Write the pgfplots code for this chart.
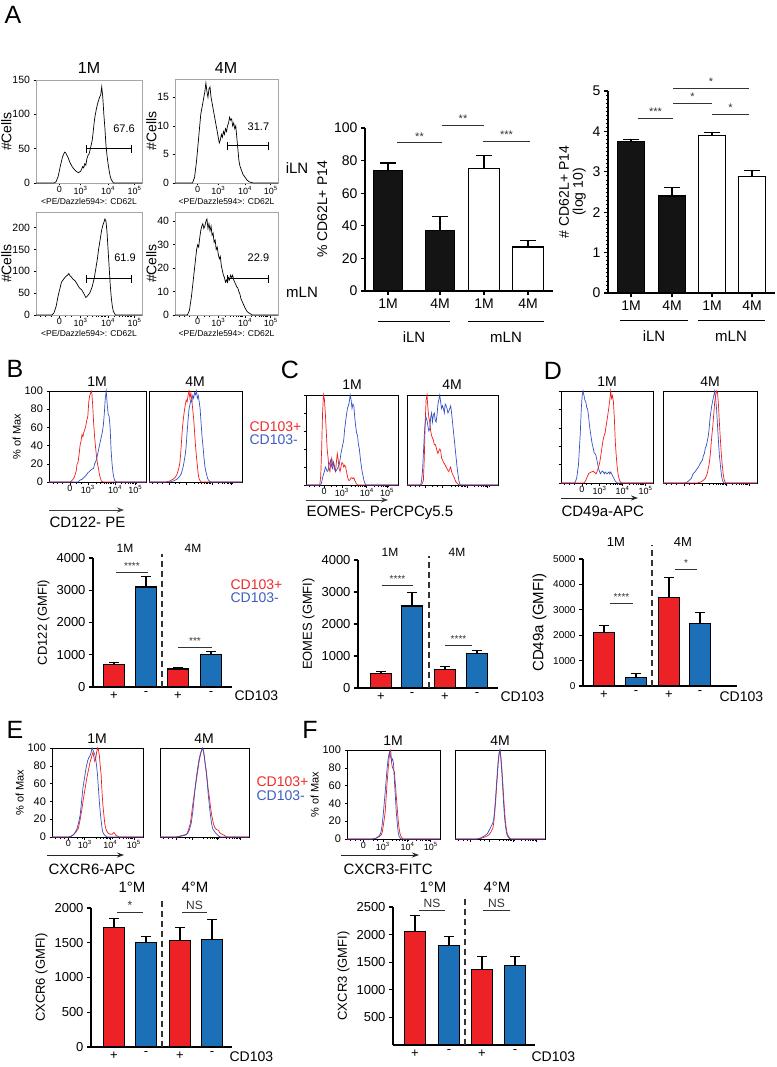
\documentclass[border=0pt]{standalone}
\usepackage{pgfplots}
\pgfplotsset{compat=1.18}
\usepackage{fontspec}
\setmainfont{Liberation Sans}
\usetikzlibrary{arrows.meta}
\definecolor{hred}{HTML}{F21B1B}
\definecolor{hblue}{HTML}{3551C4}
\definecolor{bred}{HTML}{EC2227}
\definecolor{bblue}{HTML}{1B70B8}
\definecolor{tred}{HTML}{EE2B2B}
\definecolor{tblue}{HTML}{3F5DBF}
\newcommand{\fs}[1]{\fontsize{#1}{#1}\selectfont}
\newcommand{\tsup}[1]{10\textsuperscript{#1}}
\newcommand{\gate}[3]{%
  \draw[line width=0.9pt] (axis cs:#1,#3) -- (axis cs:#2,#3);
  \draw[line width=0.9pt] (axis cs:#1,#3) ++(0pt,-4pt) -- ++(0pt,8pt);
  \draw[line width=0.9pt] (axis cs:#2,#3) ++(0pt,-4pt) -- ++(0pt,8pt);}
\newcommand{\sig}[5][10]{\draw[line width=1pt,black!80] (axis cs:#2,#4) -- (axis cs:#3,#4) node[midway,above=-1pt,font=\fs{#1},black!80] {#5};}
\newcommand{\pmlabs}[4]{%
  \node[font=\fs{13},below=1pt] at (axis cs:#1,0) {+};
  \node[font=\fs{13},below=1pt] at (axis cs:#2,0) {-};
  \node[font=\fs{13},below=1pt] at (axis cs:#3,0) {+};
  \node[font=\fs{13},below=1pt] at (axis cs:#4,0) {-};}
\newcommand{\sepline}[2]{\draw[line width=1.2pt,black!80,dash pattern=on 6pt off 4pt] (axis cs:#1,0) -- (axis cs:#1,#2);}
\pgfplotsset{
  every axis/.append style={/pgf/number format/assume math mode=true,/pgf/number format/1000 sep={},scaled y ticks=false},
  hist/.style={scale only axis,anchor=south west,xmin=0,xmax=100,ymin=0,ymax=100,
    axis line style={line width=0.7pt},tick align=outside,xtick pos=bottom,ytick pos=left,
    major tick length=2.5pt,minor tick length=1.5pt,tick style={line width=0.6pt,black},
    yticklabel style={font=\fs{11}},xticklabel style={font=\fs{9},inner sep=1pt},
    minor xtick={4,9,14,28,33,48.8,53.4,56.7,59.2,61.2,63,64.5,65.8,74.2,78.4,81.4,83.8,85.7,87.3,88.7,89.9},
    clip=false,ylabel style={font=\fs{11}},ytick=\empty},
  hx/.style n args={4}{xtick={#1,#2,#3,#4},xticklabels={0,\tsup{3},\tsup{4},\tsup{5}}},
  hxn/.style n args={4}{xtick={#1,#2,#3,#4},xticklabels={}},
  yt/.style={ytick={0,20,40,60,80,100}},
  histA/.style={axis line style={gray!70},ylabel={\#Cells},ylabel style={font=\fs{14}},ylabel shift=-6pt,
    yticklabel style={font=\fs{10.5}},
    xlabel={<PE/Dazzle594>: CD62L},xlabel style={font=\fs{8.5},yshift=1pt}},
  barax/.style={scale only axis,anchor=south west,axis lines=left,axis line style={-,line width=1.4pt},
    tick align=outside,major tick length=4pt,tick style={line width=1.2pt,black},
    ymin=0,clip=false,yticklabel style={font=\fs{13}},xticklabel style={font=\fs{14}},
    ylabel style={font=\fs{13}},xtick=\empty},
  barp/.style={ybar,bar shift=0pt,draw=black,line width=1.2pt,
    error bars/y dir=plus,error bars/y explicit,
    error bars/error bar style={line width=1.2pt,black},
    error bars/error mark options={rotate=90,line width=1.2pt,black,mark size=5pt}},
  capA/.style={error bars/error mark options={rotate=90,line width=1.2pt,black,mark size=8pt}},
  hl/.style={line width=0.7pt},
}
\begin{document}
\begin{tikzpicture}
\path[use as bounding box] (0pt,0pt) rectangle (776pt,-1067pt);

% ================= Panel A =================
\node[font=\fs{25}] at (13pt,-15pt) {A};
\node[font=\fs{16}] at (89pt,-68pt) {1M};
\node[font=\fs{16}] at (226pt,-68pt) {4M};
\node[font=\fs{15}] at (297pt,-168pt) {iLN};
\node[font=\fs{15}] at (302pt,-292pt) {mLN};

\begin{axis}[hist,at={(36pt,-183pt)},width=106pt,height=103pt,ymax=150,ytick={0,50,100,150},
  hx={22}{42}{68}{93},histA]
\addplot[black,hl] coordinates {(0,0) (17,0) (19,2) (21,10) (23,25) (25,38) (27,45) (28,44) (30,38) (32,30) (34,24) (36,20) (38,17) (40,15) (42,17) (43,20) (44,24) (45,22) (46,28) (47,26) (48,35) (49,40) (50,42) (51,48) (52,55) (53,62) (54,75) (55,90) (56,100) (57,108) (58,115) (59,120) (60,125) (61,128) (62,140) (63,125) (64,100) (65,80) (66,55) (67,40) (68,28) (69,18) (70,10) (71,5) (73,0) (100,0)};
\gate{48}{89.6}{50}
\node[font=\fs{11}] at (axis cs:83,79) {67.6};
\end{axis}

\begin{axis}[hist,at={(175pt,-183pt)},width=103pt,height=104pt,ymax=18.2,ytick={0,5,10,15},
  hx={22}{42}{68}{93},histA]
\addplot[black,hl] coordinates {(0,0) (17,0) (19,1) (21,4) (23,8) (25,12) (27,14) (29,16) (30,17.5) (31,16) (32,15) (33,16.5) (34,16.8) (35,15) (36,14) (37,13) (38,12) (39,11) (40,10) (41,9) (42,8) (43,7) (44,7.5) (45,8.5) (46,8) (47,9) (48,8.5) (49,9.5) (50,9) (51,10) (52,10.5) (53,11.5) (54,11) (55,11.2) (56,10) (57,10.5) (58,9.5) (59,10) (60,8) (61,6) (62,4) (63,3) (64,2.5) (65,2) (66,1.5) (68,1) (70,0.5) (72,0.2) (76,0) (100,0)};
\gate{50.5}{91}{6.5}
\node[font=\fs{11}] at (axis cs:81,9.8) {31.7};
\end{axis}

\begin{axis}[hist,at={(36pt,-315pt)},width=106pt,height=103pt,ymax=236,ytick={0,50,100,150,200},
  hx={22}{42}{68}{93},histA]
\addplot[black,hl] coordinates {(0,0) (15,0) (17,5) (19,20) (21,45) (23,65) (24,75) (26,82) (28,88) (30,92) (31,95) (32,90) (33,88) (35,82) (37,78) (39,70) (41,62) (43,58) (45,50) (46,45) (47,40) (48,42) (49,45) (50,48) (51,52) (52,58) (53,65) (54,75) (55,85) (56,100) (57,115) (58,130) (59,150) (60,165) (61,180) (62,195) (63,205) (64,212) (65,220) (66,215) (67,190) (68,150) (69,110) (70,70) (71,40) (72,20) (73,8) (75,0) (100,0)};
\gate{48}{90}{83}
\node[font=\fs{11}] at (axis cs:84,131) {61.9};
\end{axis}

\begin{axis}[hist,at={(175pt,-315pt)},width=103pt,height=103pt,ymax=44,ytick={0,10,20,30,40},
  hx={22}{42}{68}{93},histA]
\addplot[black,hl] coordinates {(0,0) (12,0) (14,2) (16,8) (18,16) (20,24) (21,28) (22,30) (23,29) (24,33) (25,36) (26,38) (27,39) (28,37) (29,38) (30,40) (31,41) (32,37) (33,39) (34,36) (35,38) (36,34) (37,35) (38,31) (39,32) (40,28) (41,29) (42,26) (43,24) (44,25) (45,21) (46,19) (47,17) (48,16) (49,14) (50,15) (51,14) (52,16) (53,15) (54,17) (55,16) (56,17) (57,15) (58,14) (59,13) (60,12) (61,11.5) (62,10) (63,9) (64,7) (65,6) (66,5) (67,4) (68,3) (70,1.5) (72,0.8) (75,0) (100,0)};
\gate{50.5}{91}{15.5}
\node[font=\fs{11}] at (axis cs:81,24.5) {22.9};
\end{axis}

% A middle bar chart
\begin{axis}[barax,at={(365pt,-291pt)},width=188pt,height=163pt,xmin=0,xmax=188,ymax=100,
  ytick={0,20,40,60,80,100},xtick={23,75,119,163},xticklabels={1M,4M,1M,4M},
  yticklabel style={font=\fs{14}},ylabel={\% CD62L+ P14},ylabel style={font=\fs{14}}]
\addplot[barp,capA,bar width=29pt,fill=black!92] coordinates {(23,74) +- (0,4.5) (75,37) +- (0,8.5)};
\addplot[barp,capA,bar width=31pt,fill=white] coordinates {(119,75) +- (0,8) (163,27) +- (0,4)};
\sig[11]{32}{77}{90.8}{**}
\sig[11]{77}{119}{101.8}{**}
\sig[11]{118}{165}{92}{***}
\end{axis}
\draw[line width=1pt] (378pt,-321pt) -- (450pt,-321pt);
\draw[line width=1pt] (468pt,-321pt) -- (544pt,-321pt);
\node[font=\fs{15}] at (414pt,-337pt) {iLN};
\node[font=\fs{15}] at (506pt,-337pt) {mLN};

% A right bar chart
\begin{axis}[barax,at={(608pt,-293pt)},width=167pt,height=202pt,xmin=0,xmax=167,ymax=5,
  ytick={0,1,2,3,4,5},minor y tick num=9,minor tick length=2.5pt,minor tick style={line width=0.7pt},
  xtick={23,64,104,144},xticklabels={1M,4M,1M,4M},
  yticklabel style={font=\fs{14}},ylabel={\# CD62L+ P14\\(log 10)},ylabel style={font=\fs{14},align=center}]
\addplot[barp,capA,bar width=27pt,fill=black!92] coordinates {(23,3.75) +- (0,0.05) (64,2.4) +- (0,0.22)};
\addplot[barp,capA,bar width=27pt,fill=white] coordinates {(104,3.9) +- (0,0.07) (144,2.88) +- (0,0.15)};
\sig[11]{30}{65}{4.33}{***}
\sig[11]{65}{104}{4.70}{*}
\sig[11]{104}{141}{4.43}{*}
\sig[11]{65}{141}{5.07}{*}
\end{axis}
\draw[line width=1pt] (620pt,-320pt) -- (688pt,-320pt);
\draw[line width=1pt] (698pt,-320pt) -- (765pt,-320pt);
\node[font=\fs{15}] at (654pt,-336pt) {iLN};
\node[font=\fs{15}] at (731pt,-336pt) {mLN};

% ================= Panel B =================
\node[font=\fs{25}] at (15pt,-369pt) {B};
\node[font=\fs{14}] at (97pt,-382pt) {1M};
\node[font=\fs{14}] at (195pt,-382pt) {4M};
\node[font=\fs{14},text=tred,anchor=west] at (246pt,-427pt) {CD103+};
\node[font=\fs{14},text=tblue,anchor=west] at (246pt,-440pt) {CD103-};
\begin{axis}[hist,at={(49pt,-482pt)},width=97pt,height=91pt,yt,hx={21.6}{40}{68}{89},ylabel={\% of Max},ylabel shift=-3pt]
\addplot[hred,hl] coordinates {(0,0) (22,0) (24,2) (26,5) (28,12) (29,20) (30,22) (31,30) (32,40) (33,45) (34,52) (35,50) (36,55) (37,58) (38,62) (39,68) (40,72) (41,88) (42,95) (43,98) (44,100) (45,85) (46,65) (47,50) (48,38) (49,28) (50,20) (51,15) (52,8) (53,4) (54,1) (56,0) (100,0)};
\addplot[hblue,hl] coordinates {(0,0) (30,0) (32,2) (34,3) (36,5) (38,7) (40,10) (42,12) (44,14) (46,15) (47,20) (48,22) (49,25) (50,30) (51,35) (52,40) (53,45) (54,50) (55,55) (56,62) (57,75) (58,92) (59,100) (60,85) (61,75) (62,72) (63,60) (64,35) (65,20) (66,10) (67,4) (68,1) (70,0) (100,0)};
\end{axis}
\begin{axis}[hist,at={(149pt,-482pt)},width=93pt,height=91pt,hxn={21.6}{40}{68}{89}]
\addplot[hred,hl] coordinates {(0,0) (18,0) (22,1) (26,3) (28,5) (30,8) (32,15) (33,20) (34,30) (35,45) (36,60) (37,70) (38,78) (39,85) (40,90) (41,88) (42,95) (43,100) (44,92) (45,98) (46,90) (47,80) (48,70) (49,55) (50,40) (51,28) (52,18) (53,8) (54,3) (56,0) (100,0)};
\addplot[hblue,hl] coordinates {(0,0) (22,0) (26,1) (30,3) (33,6) (35,10) (37,18) (39,30) (40,40) (41,55) (42,68) (43,80) (44,85) (45,90) (46,88) (47,95) (48,92) (49,98) (50,96) (51,100) (52,92) (53,95) (54,88) (55,80) (56,65) (57,50) (58,40) (59,28) (60,18) (61,12) (62,8) (63,4) (64,2) (66,0) (100,0)};
\end{axis}
\draw[-{Stealth[length=7pt,width=5pt]},line width=0.9pt,black!75] (49pt,-510pt) -- (124pt,-510pt);
\node[font=\fs{15},anchor=west] at (46pt,-522pt) {CD122- PE};

\node[font=\fs{12}] at (125pt,-548pt) {1M};
\node[font=\fs{12}] at (193pt,-548pt) {4M};
\node[font=\fs{14},text=tred,anchor=west] at (227pt,-585pt) {CD103+};
\node[font=\fs{14},text=tblue,anchor=west] at (227pt,-598pt) {CD103-};
\node[font=\fs{14},anchor=west] at (231pt,-696pt) {CD103};
\begin{axis}[barax,at={(93pt,-687pt)},width=139pt,height=129pt,xmin=0,xmax=139,ymax=4000,
  ytick={0,1000,2000,3000,4000},ylabel={CD122 (GMFI)}]
\addplot[barp,bar width=21pt,fill=bred] coordinates {(21,700) +- (0,60) (85,560) +- (0,40)};
\addplot[barp,bar width=21pt,fill=bblue] coordinates {(53,3100) +- (0,320) (118,1000) +- (0,100)};
\sepline{69}{4120}
\sig{23}{55}{3566}{****}
\sig{85}{119}{1240}{***}
\pmlabs{21}{53}{85}{118}
\end{axis}

% ================= Panel C =================
\node[font=\fs{25}] at (290pt,-370pt) {C};
\node[font=\fs{14}] at (352pt,-385pt) {1M};
\node[font=\fs{14}] at (452pt,-385pt) {4M};
\begin{axis}[hist,at={(306pt,-485pt)},width=92pt,height=90pt,yt,yticklabels={},hx={19.6}{39}{66}{88}]
\addplot[hred,hl] coordinates {(0,0) (15,0) (16,10) (17,40) (18,80) (19,100) (20,95) (21,80) (22,60) (23,40) (24,30) (25,18) (26,15) (27,25) (28,30) (29,22) (30,25) (31,18) (32,15) (33,25) (34,35) (35,28) (36,18) (37,15) (38,20) (39,25) (40,24) (41,20) (42,22) (43,20) (44,15) (45,10) (46,6) (47,5) (48,6) (49,8) (50,8) (51,7) (52,8) (53,5) (54,3) (55,1) (56,0) (100,0)};
\addplot[hblue,hl] coordinates {(0,0) (16,0) (17,3) (18,8) (19,12) (20,15) (21,20) (22,18) (23,15) (24,16) (25,22) (26,25) (27,28) (28,20) (29,18) (30,25) (31,20) (32,15) (33,16) (34,18) (35,20) (36,22) (37,28) (38,35) (39,40) (40,45) (41,50) (42,62) (43,70) (44,78) (45,85) (46,88) (47,92) (48,100) (49,95) (50,85) (51,90) (52,88) (53,75) (54,65) (55,58) (56,55) (57,45) (58,40) (59,30) (60,22) (61,15) (62,10) (63,5) (64,2) (65,0) (100,0)};
\end{axis}
\begin{axis}[hist,at={(407pt,-485pt)},width=91pt,height=90pt,hxn={19.6}{39}{66}{88}]
\addplot[hred,hl] coordinates {(0,0) (16,0) (18,5) (19,30) (20,70) (21,95) (22,100) (23,85) (24,75) (25,70) (26,60) (27,55) (28,52) (29,50) (30,45) (31,45) (32,42) (33,38) (34,35) (35,38) (36,40) (37,38) (38,30) (39,28) (40,25) (41,24) (42,22) (43,20) (44,18) (45,16) (46,15) (47,18) (48,20) (49,15) (50,12) (51,10) (52,8) (53,5) (54,3) (55,2) (57,0) (100,0)};
\addplot[hblue,hl] coordinates {(0,0) (15,0) (16,5) (17,15) (18,35) (19,55) (20,70) (21,75) (22,72) (23,65) (24,60) (25,62) (26,75) (27,80) (28,70) (29,78) (30,80) (31,72) (32,70) (33,78) (34,90) (35,95) (36,100) (37,92) (38,85) (39,88) (40,85) (41,80) (42,90) (43,88) (44,85) (45,80) (46,82) (47,85) (48,88) (49,80) (50,70) (51,60) (52,50) (53,40) (54,30) (55,20) (56,12) (57,5) (58,1) (59,0) (100,0)};
\end{axis}
\draw[-{Stealth[length=7pt,width=5pt]},line width=0.9pt,black!75] (306pt,-500pt) -- (388pt,-500pt);
\node[font=\fs{15},anchor=west] at (303pt,-513pt) {EOMES- PerCPCy5.5};

\node[font=\fs{12}] at (390pt,-552pt) {1M};
\node[font=\fs{12}] at (457pt,-552pt) {4M};
\node[font=\fs{14},anchor=west] at (497pt,-697pt) {CD103};
\begin{axis}[barax,at={(358pt,-688pt)},width=140pt,height=128pt,xmin=0,xmax=140,ymax=4000,
  ytick={0,1000,2000,3000,4000},ylabel={EOMES (GMFI)}]
\addplot[barp,bar width=21pt,fill=bred] coordinates {(23,460) +- (0,50) (87,580) +- (0,80)};
\addplot[barp,bar width=21pt,fill=bblue] coordinates {(54,2560) +- (0,420) (119,1080) +- (0,80)};
\sepline{71}{4130}
\sig{24}{55}{3219}{****}
\sig{87}{114}{1344}{****}
\pmlabs{23}{54}{87}{119}
\end{axis}

% ================= Panel D =================
\node[font=\fs{25}] at (553pt,-371pt) {D};
\node[font=\fs{14}] at (607pt,-382pt) {1M};
\node[font=\fs{14}] at (710pt,-382pt) {4M};
\begin{axis}[hist,at={(561pt,-483pt)},width=92pt,height=92pt,yt,yticklabels={},hx={22.8}{42}{67}{92}]
\addplot[hblue,hl] coordinates {(0,0) (15,0) (17,5) (19,20) (21,55) (22,80) (23,95) (24,100) (25,95) (26,90) (27,88) (28,82) (29,80) (30,72) (31,62) (32,55) (33,48) (34,42) (35,38) (36,33) (37,32) (38,30) (39,25) (40,20) (41,15) (42,12) (43,10) (44,12) (45,13) (46,12) (47,10) (48,12) (49,11) (50,10) (51,11) (52,12) (53,10) (54,12) (55,10) (56,8) (57,6) (58,4) (59,2) (61,0) (100,0)};
\addplot[hred,hl] coordinates {(0,0) (25,0) (27,3) (29,8) (30,10) (31,11) (33,12) (35,13) (37,11) (38,10) (39,12) (40,15) (41,18) (42,22) (43,28) (44,35) (45,42) (46,48) (47,52) (48,55) (49,62) (50,68) (51,75) (52,82) (53,90) (54,100) (55,92) (56,95) (57,88) (58,70) (59,45) (60,30) (61,18) (62,10) (63,5) (64,2) (66,0) (100,0)};
\end{axis}
\begin{axis}[hist,at={(663pt,-483pt)},width=94pt,height=92pt,hxn={22.8}{42}{67}{92}]
\addplot[hblue,hl] coordinates {(0,0) (24,0) (27,2) (30,5) (32,10) (34,12) (36,15) (38,18) (40,22) (42,25) (43,30) (44,32) (45,38) (46,40) (47,45) (48,50) (49,58) (50,70) (51,78) (52,85) (53,90) (54,95) (55,100) (56,92) (57,80) (58,62) (59,45) (60,30) (61,20) (62,10) (63,4) (64,1) (65,0) (100,0)};
\addplot[hred,hl] coordinates {(0,0) (36,0) (40,1) (43,3) (45,5) (47,10) (48,15) (49,20) (50,28) (51,40) (52,52) (53,62) (54,75) (55,88) (56,95) (57,100) (58,98) (59,85) (60,65) (61,48) (62,32) (63,20) (64,10) (65,4) (66,1) (67,0) (100,0)};
\end{axis}
\draw[-{Stealth[length=7pt,width=5pt]},line width=0.9pt,black!85] (561pt,-498pt) -- (638pt,-498pt);
\node[font=\fs{15},anchor=west] at (558pt,-511pt) {CD49a-APC};

\node[font=\fs{13}] at (616pt,-542pt) {1M};
\node[font=\fs{13}] at (683pt,-542pt) {4M};
\node[font=\fs{14},anchor=west] at (716pt,-697pt) {CD103};
\begin{axis}[barax,at={(583pt,-686pt)},width=154pt,height=127pt,xmin=0,xmax=154,ymax=5000,
  ytick={0,1000,2000,3000,4000,5000},yticklabel style={font=\fs{10}},ylabel={CD49a (GMFI)},ylabel style={font=\fs{15}}]
\addplot[barp,bar width=21pt,fill=bred] coordinates {(21,2100) +- (0,280) (86,3500) +- (0,780)};
\addplot[barp,bar width=21pt,fill=bblue] coordinates {(53,350) +- (0,150) (117,2450) +- (0,450)};
\sepline{69}{5550}
\sig{27}{50}{3268}{****}
\sig{92}{114}{4606}{*}
\pmlabs{21}{53}{86}{117}
\end{axis}

% ================= Panel E =================
\node[font=\fs{25}] at (15pt,-730pt) {E};
\node[font=\fs{14}] at (97pt,-739pt) {1M};
\node[font=\fs{14}] at (204pt,-739pt) {4M};
\node[font=\fs{14},text=tred,anchor=west] at (253pt,-782pt) {CD103+};
\node[font=\fs{14},text=tblue,anchor=west] at (253pt,-796pt) {CD103-};
\begin{axis}[hist,at={(52pt,-837pt)},width=91pt,height=89pt,yt,hx={18}{36}{64}{90},ylabel={\% of Max},ylabel shift=-3pt]
\addplot[hred,hl] coordinates {(0,0) (20,0) (23,2) (26,5) (29,10) (31,20) (33,32) (34,40) (36,52) (38,65) (39,70) (40,75) (41,80) (42,85) (43,88) (44,92) (45,95) (46,90) (47,85) (48,88) (49,95) (50,100) (51,98) (52,92) (53,80) (54,70) (55,50) (56,35) (57,25) (58,15) (59,10) (60,7) (62,4) (64,3) (66,3) (67,4) (68,5) (69,4) (70,2) (72,1) (74,0) (100,0)};
\addplot[hblue,hl] coordinates {(0,0) (18,0) (21,1) (24,3) (27,8) (29,15) (31,25) (32,35) (33,45) (34,55) (35,62) (36,68) (37,75) (38,80) (39,85) (40,88) (41,90) (42,92) (43,95) (44,100) (45,98) (46,95) (47,93) (48,88) (49,80) (50,70) (51,55) (52,40) (53,28) (54,18) (55,10) (56,5) (57,3) (59,1) (61,0) (100,0)};
\end{axis}
\begin{axis}[hist,at={(160pt,-837pt)},width=89pt,height=89pt,hxn={18}{36}{64}{90}]
\addplot[hred,hl] coordinates {(0,0) (18,0) (22,1) (26,2) (30,3) (32,8) (34,15) (35,22) (36,30) (37,38) (38,45) (39,52) (40,58) (41,65) (42,72) (43,78) (44,85) (45,90) (46,95) (47,98) (48,100) (49,95) (50,88) (51,80) (52,75) (53,65) (54,55) (55,48) (56,40) (57,32) (58,25) (59,20) (60,15) (61,12) (62,10) (63,9) (64,8) (65,8) (66,7) (67,5) (68,4) (70,3) (72,2) (75,0) (100,0)};
\addplot[hblue,hl] coordinates {(0,0) (20,0) (24,1) (28,2) (31,4) (33,8) (35,15) (36,22) (37,30) (38,40) (39,50) (40,60) (41,68) (42,75) (43,82) (44,88) (45,92) (46,95) (47,98) (48,100) (49,96) (50,90) (51,80) (52,72) (53,62) (54,50) (55,40) (56,30) (57,22) (58,15) (59,10) (60,8) (62,5) (64,3) (66,1) (68,0) (100,0)};
\end{axis}
\draw[-{Stealth[length=7pt,width=5pt]},line width=0.9pt,black!85] (47pt,-855pt) -- (124pt,-855pt);
\node[font=\fs{15},anchor=west] at (45pt,-869pt) {CXCR6-APC};

\node[font=\fs{15}] at (132pt,-887pt) {1°M};
\node[font=\fs{15}] at (195pt,-887pt) {4°M};
\node[font=\fs{14},anchor=west] at (226pt,-1057pt) {CD103};
\begin{axis}[barax,at={(91pt,-1047pt)},width=141pt,height=139pt,xmin=0,xmax=141,ymax=2000,
  ytick={0,500,1000,1500,2000},ylabel={CXCR6 (GMFI)}]
\addplot[barp,bar width=21pt,fill=bred] coordinates {(23,1720) +- (0,130) (89,1530) +- (0,190)};
\addplot[barp,bar width=21pt,fill=bblue] coordinates {(55,1500) +- (0,90) (121,1550) +- (0,290)};
\sepline{71}{2144}
\sig[12]{26}{52}{1942}{*}
\sig[12]{91}{116}{1942}{NS}
\pmlabs{23}{55}{89}{121}
\end{axis}

% ================= Panel F =================
\node[font=\fs{25}] at (310pt,-730pt) {F};
\node[font=\fs{14}] at (393pt,-741pt) {1M};
\node[font=\fs{14}] at (500pt,-741pt) {4M};
\begin{axis}[hist,at={(347pt,-839pt)},width=93pt,height=89pt,yt,hx={17.5}{38.5}{65}{90},ylabel={\% of Max},ylabel shift=-3pt]
\addplot[hred,hl] coordinates {(0,0) (28,0) (32,1) (35,3) (37,5) (38,8) (39,15) (40,22) (41,30) (42,45) (43,62) (44,75) (45,88) (46,98) (47,100) (48,85) (49,80) (50,78) (51,75) (52,62) (53,48) (54,35) (55,22) (56,12) (57,6) (58,3) (60,0) (100,0)};
\addplot[hblue,hl] coordinates {(0,0) (27,0) (31,1) (34,3) (36,6) (37,10) (38,18) (39,28) (40,40) (41,52) (42,65) (43,78) (44,88) (45,95) (46,98) (47,92) (48,88) (49,90) (50,85) (51,65) (52,48) (53,30) (54,18) (55,8) (56,3) (58,0) (100,0)};
\end{axis}
\begin{axis}[hist,at={(455pt,-839pt)},width=90pt,height=89pt,hxn={17.5}{38.5}{65}{90}]
\addplot[hred,hl] coordinates {(0,0) (25,0) (30,1) (35,3) (38,5) (40,8) (42,12) (43,18) (44,28) (45,40) (46,55) (47,70) (48,85) (49,95) (50,100) (51,92) (52,80) (53,65) (54,48) (55,32) (56,20) (57,12) (58,6) (60,2) (62,0) (100,0)};
\addplot[hblue,hl] coordinates {(0,0) (24,0) (28,1) (32,3) (36,6) (38,10) (40,14) (42,18) (43,22) (44,32) (45,45) (46,60) (47,75) (48,88) (49,97) (50,100) (51,90) (52,75) (53,58) (54,40) (55,25) (56,15) (57,8) (58,4) (60,1) (62,0) (100,0)};
\end{axis}
\draw[-{Stealth[length=7pt,width=5pt]},line width=0.9pt,black!85] (341pt,-855pt) -- (419pt,-855pt);
\node[font=\fs{15},anchor=west] at (340pt,-869pt) {CXCR3-FITC};

\node[font=\fs{15}] at (433pt,-887pt) {1°M};
\node[font=\fs{15}] at (497pt,-887pt) {4°M};
\node[font=\fs{14},anchor=west] at (528pt,-1057pt) {CD103};
\begin{axis}[barax,at={(393pt,-1045pt)},width=142pt,height=138pt,xmin=0,xmax=142,ymax=2500,
  ytick={500,1000,1500,2000,2500},ylabel={CXCR3 (GMFI)}]
\addplot[barp,bar width=21pt,fill=bred] coordinates {(22,2060) +- (0,290) (89,1370) +- (0,230)};
\addplot[barp,bar width=21pt,fill=bblue] coordinates {(56,1800) +- (0,170) (122,1440) +- (0,160)};
\sepline{72}{2663}
\sig[12]{26}{52}{2430}{NS}
\sig[12]{90}{117}{2430}{NS}
\pmlabs{22}{56}{89}{122}
\end{axis}
\end{tikzpicture}
\end{document}
